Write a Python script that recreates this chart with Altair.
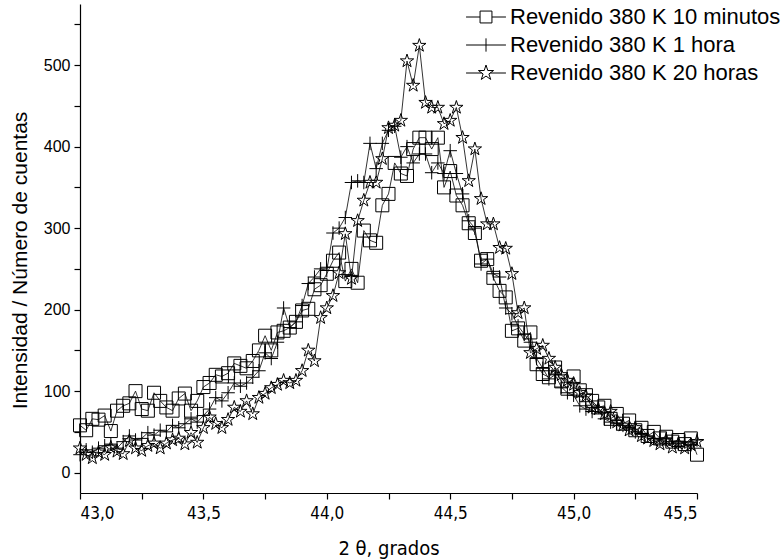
import altair as alt
import pandas as pd

# 2-theta sample positions (degrees)
theta = [round(43.0 + 0.025 * i, 3) for i in range(101)]

serie_names = ["Revenido 380 K 10 minutos", "Revenido 380 K 1 hora", "Revenido 380 K 20 horas"]

v_10min = [58, 52, 66, 65, 70, 51, 76, 82, 85, 100,
           78, 76, 98, 88, 80, 76, 91, 97, 76, 88,
           105, 110, 120, 118, 122, 134, 131, 128, 137, 150,
           168, 150, 172, 174, 178, 185, 199, 201, 225, 230,
           244, 260, 270, 235, 250, 233, 297, 285, 282, 328,
           342, 380, 367, 364, 397, 411, 411, 397, 411, 350,
           370, 340, 328, 306, 294, 260, 262, 239, 223, 215,
           174, 177, 162, 172, 133, 121, 117, 129, 112, 103,
           118, 101, 95, 88, 80, 82, 66, 72, 60, 64,
           52, 55, 45, 50, 42, 44, 38, 40, 35, 42, 22]

v_1hora = [22, 28, 25, 30, 33, 35, 30, 38, 45, 40,
           42, 49, 46, 52, 50, 58, 55, 60, 66, 62,
           70, 78, 92, 88, 98, 110, 106, 110, 117, 125,
           147, 140, 160, 202, 178, 185, 205, 232, 240, 250,
           248, 294, 300, 313, 356, 358, 356, 404, 373, 404,
           420, 425, 387, 400, 380, 391, 391, 368, 380, 367,
           395, 367, 342, 309, 300, 256, 262, 244, 240, 202,
           195, 180, 170, 160, 140, 128, 115, 120, 105, 98,
           95, 82, 78, 75, 80, 66, 62, 60, 58, 55,
           50, 48, 45, 42, 40, 42, 38, 36, 38, 34, 40]

v_20horas = [30, 22, 18, 25, 22, 31, 26, 23, 39, 30,
             27, 33, 36, 30, 36, 40, 42, 35, 49, 37,
             55, 68, 60, 55, 65, 80, 75, 88, 72, 92,
             97, 104, 108, 113, 110, 113, 125, 150, 137, 190,
             202, 217, 245, 293, 238, 309, 334, 356, 356, 385,
             423, 426, 432, 505, 475, 524, 454, 448, 448, 428,
             432, 448, 411, 358, 397, 336, 305, 305, 276, 275,
             244, 196, 202, 147, 152, 156, 140, 129, 120, 113,
             108, 98, 94, 80, 78, 72, 75, 62, 58, 52,
             55, 45, 42, 39, 35, 40, 31, 36, 30, 34, 38]

x_ticks = [43.0, 43.25, 43.5, 43.75, 44.0, 44.25, 44.5, 44.75, 45.0, 45.25, 45.5]
y_ticks = [0, 50, 100, 150, 200, 250, 300, 350, 400, 450, 500, 550]

rows = []
for name, vals in zip(serie_names, [v_10min, v_1hora, v_20horas]):
    for t, v in zip(theta, vals):
        rows.append({"theta": t, "valor": v, "serie": name})
df = pd.DataFrame(rows)

# marker shapes (custom SVG paths in unit space)
sq = "M-1,-1H1V1H-1Z"
plus = "M-1,0H1M0,-1V1"
star = ("M0,-1L0.2245,-0.309L0.9511,-0.309L0.3633,0.118L0.5878,0.809"
        "L0,0.382L-0.5878,0.809L-0.3633,0.118L-0.9511,-0.309L-0.2245,-0.309Z")

# legend symbols: line - marker - line
leg_sq = "M-2.85,0H-0.85M0.85,0H2.85M-0.85,-0.85H0.85V0.85H-0.85Z"
leg_plus = "M-2.85,0H2.85M0,-0.95V0.95"
leg_star = ("M-2.85,0H-0.6M0.6,0H2.85"
            "M0,-1.14L0.2563,-0.3527L1.0843,-0.3523L0.4147,0.1347L0.6701,0.9223"
            "L0,0.436L-0.6701,0.9223L-0.4147,0.1347L-1.0843,-0.3523L-0.2563,-0.3527Z")

narrow = "'Liberation Sans Narrow', 'Arial Narrow', 'DejaVu Sans Condensed', 'Liberation Sans'"

x_enc = alt.X("theta:Q", scale=alt.Scale(domain=[43, 45.5], nice=False, zero=False),
              axis=alt.Axis(values=x_ticks, title="2 θ, grados",
                            labelExpr="abs(datum.value*2 - round(datum.value*2)) < 0.001 ? replace(format(datum.value, '.1f'), '.', ',') : ''",
                            labelFont=narrow, labelFontSize=17,
                            titleFont=narrow, titleFontSize=20,
                            labelPadding=6, titleY=55, titleBaseline="middle"))
y_enc = alt.Y("valor:Q", scale=alt.Scale(domain=[-25, 575], nice=False, zero=False),
              axis=alt.Axis(values=y_ticks, title="Intensidad / Número de cuentas",
                            labelExpr="datum.value % 100 == 0 ? datum.value : ''",
                            titleFontSize=21,
                            labelPadding=4, titleX=-60, titleY=256, titleAngle=270,
                            titleAlign="center", titleBaseline="middle"))

base = alt.Chart(df)

lines = base.mark_line(color="black", strokeWidth=0.8).encode(
    x=x_enc, y=y_enc, detail="serie:N"
)

points = base.mark_point(filled=False, color="black", strokeWidth=1, opacity=1).encode(
    x=x_enc, y=y_enc,
    shape=alt.Shape("serie:N", scale=alt.Scale(domain=serie_names, range=[sq, plus, star]), legend=None),
    size=alt.Size("serie:N", scale=alt.Scale(domain=serie_names, range=[169, 196, 250]), legend=None),
)

legend_layer = base.transform_filter("false").mark_point(
    filled=False, color="black", strokeWidth=1, opacity=1, size=196
).encode(
    x=x_enc, y=y_enc,
    shape=alt.Shape("serie:N",
                    scale=alt.Scale(domain=serie_names, range=[leg_sq, leg_plus, leg_star]),
                    legend=alt.Legend(title=None, orient="none", legendX=395, legendY=2,
                                      labelFont="Liberation Sans", labelFontSize=22,
                                      labelColor="black", labelOffset=13, rowPadding=6,
                                      padding=0, symbolStrokeColor="black",
                                      symbolStrokeWidth=1, symbolFillColor="transparent",
                                      symbolOpacity=1, symbolSize=196,
                                      labelLimit=400)),
)

chart = alt.layer(lines, points, legend_layer).resolve_scale(
    shape="independent", size="independent"
).properties(
    width=617, height=489,
    autosize=alt.AutoSizeParams(type="none"),
    padding={"left": 80, "top": 4, "right": 86, "bottom": 67},
    background="white",
).configure_view(stroke=None).configure_axis(
    grid=False, domainColor="black", domainWidth=1.2, tickColor="black", tickWidth=1.2,
    tickSize=6, labelFont="Liberation Sans", labelFontSize=16, labelColor="black",
    titleFont="Liberation Sans", titleFontSize=18, titleFontWeight="normal", titleColor="black",
)

chart.save("out.html", embed_options={"renderer": "svg", "actions": False})
